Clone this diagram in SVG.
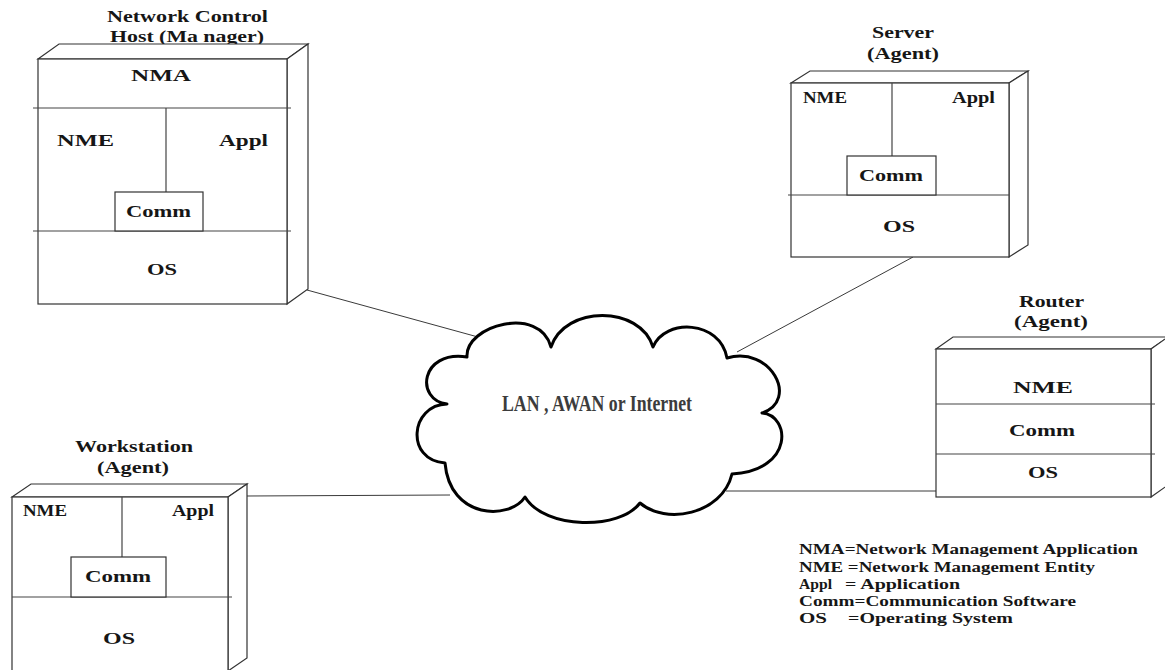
<svg xmlns="http://www.w3.org/2000/svg" width="1165" height="670" viewBox="0 0 1165 670">
  <style>
    .face { fill: #ffffff; stroke: #333333; stroke-width: 1.2; stroke-linejoin: miter; }
    .div { stroke: #444444; stroke-width: 1.2; fill: none; }
    .link { stroke: #3a3a3a; stroke-width: 1; fill: none; }
    .cloud { fill: #ffffff; stroke: #000000; stroke-width: 3; stroke-linejoin: round; }
    .t { font-family: "Liberation Serif", "Times New Roman", serif; font-weight: bold; font-size: 16.5px; fill: #161616; }
    .h { font-family: "Liberation Serif", "Times New Roman", serif; font-weight: bold; font-size: 16px; fill: #161616; }
    .legend { font-family: "Liberation Serif", "Times New Roman", serif; font-weight: bold; font-size: 15px; fill: #161616; }
    .net { font-family: "Liberation Serif", "Times New Roman", serif; font-weight: bold; font-size: 23px; fill: #3c3c3c; }
  </style>

  <rect x="0" y="0" width="1165" height="670" fill="#ffffff"/>

  <!-- links between the hosts and the network cloud -->
  <g id="connectors">
    <line class="link" x1="307" y1="290" x2="478" y2="337"/>
    <line class="link" x1="913" y1="257" x2="737" y2="352"/>
    <line class="link" x1="726" y1="491" x2="936" y2="491"/>
    <line class="link" x1="247" y1="496" x2="450" y2="495"/>
  </g>

  <!-- network control host (manager) -->
  <g id="manager">
    <text class="h" x="107" y="22" textLength="161" lengthAdjust="spacingAndGlyphs">Network Control</text>
    <text class="h" x="110" y="42" textLength="154" lengthAdjust="spacingAndGlyphs">Host (Ma nager)</text>
    <polygon class="face" points="38,59 59,44 308,44 287,59"/>
    <polygon class="face" points="287,59 308,44 308,289 287,304"/>
    <rect class="face" x="38" y="59" width="249" height="245"/>
    <line class="div" x1="33" y1="108" x2="291" y2="108"/>
    <line class="div" x1="33" y1="231" x2="291" y2="231"/>
    <line class="div" x1="166" y1="108" x2="166" y2="192"/>
    <rect class="face" x="115" y="192" width="88" height="39"/>
    <text class="t" x="131" y="81" textLength="60" lengthAdjust="spacingAndGlyphs">NMA</text>
    <text class="t" x="57" y="146" textLength="57" lengthAdjust="spacingAndGlyphs">NME</text>
    <text class="t" x="219" y="146" textLength="49" lengthAdjust="spacingAndGlyphs">Appl</text>
    <text class="t" x="126" y="217" textLength="65" lengthAdjust="spacingAndGlyphs">Comm</text>
    <text class="t" x="147" y="275" textLength="30" lengthAdjust="spacingAndGlyphs">OS</text>
  </g>

  <!-- server (agent) -->
  <g id="server">
    <text class="h" x="872" y="38" textLength="62" lengthAdjust="spacingAndGlyphs">Server</text>
    <text class="h" x="867" y="59" textLength="72" lengthAdjust="spacingAndGlyphs">(Agent)</text>
    <polygon class="face" points="791,83 810,71 1028,71 1009,83"/>
    <polygon class="face" points="1009,83 1028,71 1028,245 1009,257"/>
    <rect class="face" x="791" y="83" width="218" height="174"/>
    <line class="div" x1="788" y1="195" x2="1009" y2="195"/>
    <line class="div" x1="892" y1="83" x2="892" y2="156"/>
    <rect class="face" x="847" y="156" width="89" height="39"/>
    <text class="t" x="803" y="103" textLength="44" lengthAdjust="spacingAndGlyphs">NME</text>
    <text class="t" x="952" y="103" textLength="43" lengthAdjust="spacingAndGlyphs">Appl</text>
    <text class="t" x="859" y="181" textLength="64" lengthAdjust="spacingAndGlyphs">Comm</text>
    <text class="t" x="883" y="232" textLength="32" lengthAdjust="spacingAndGlyphs">OS</text>
  </g>

  <!-- router (agent) -->
  <g id="router">
    <text class="h" x="1019" y="307" textLength="65" lengthAdjust="spacingAndGlyphs">Router</text>
    <text class="h" x="1014" y="327" textLength="74" lengthAdjust="spacingAndGlyphs">(Agent)</text>
    <polygon class="face" points="936,349 953,337 1168,337 1151,349"/>
    <polygon class="face" points="1151,349 1168,337 1168,485 1151,497"/>
    <rect class="face" x="936" y="349" width="215" height="148"/>
    <line class="div" x1="936" y1="404" x2="1155" y2="404"/>
    <line class="div" x1="936" y1="454" x2="1155" y2="454"/>
    <text class="t" x="1013" y="393" textLength="60" lengthAdjust="spacingAndGlyphs">NME</text>
    <text class="t" x="1009" y="436" textLength="66" lengthAdjust="spacingAndGlyphs">Comm</text>
    <text class="t" x="1028" y="478" textLength="30" lengthAdjust="spacingAndGlyphs">OS</text>
  </g>

  <!-- workstation (agent) -->
  <g id="workstation">
    <text class="h" x="75" y="452" textLength="118" lengthAdjust="spacingAndGlyphs">Workstation</text>
    <text class="h" x="97" y="473" textLength="72" lengthAdjust="spacingAndGlyphs">(Agent)</text>
    <polygon class="face" points="12,497 31,484 247,484 228,497"/>
    <polygon class="face" points="228,497 247,484 247,658 228,671"/>
    <rect class="face" x="12" y="497" width="216" height="174"/>
    <line class="div" x1="12" y1="597" x2="232" y2="597"/>
    <line class="div" x1="122" y1="497" x2="122" y2="557"/>
    <rect class="face" x="71" y="557" width="95" height="40"/>
    <text class="t" x="23" y="516" textLength="44" lengthAdjust="spacingAndGlyphs">NME</text>
    <text class="t" x="172" y="516" textLength="42" lengthAdjust="spacingAndGlyphs">Appl</text>
    <text class="t" x="85" y="582" textLength="66" lengthAdjust="spacingAndGlyphs">Comm</text>
    <text class="t" x="103" y="644" textLength="32" lengthAdjust="spacingAndGlyphs">OS</text>
  </g>

  <!-- network cloud -->
  <g id="network">
    <path class="cloud" d="M467,357
      C465,325 540,305 551,347
      C565,305 640,305 653,347
      C665,318 720,320 727,358
      C770,345 800,400 762,413
      C790,415 795,470 732,474
      C722,515 665,525 640,503
      C620,530 545,530 525,497
      C510,520 450,520 445,463
      C405,460 410,405 447,404
      C415,400 420,350 467,357 Z"/>
    <text class="net" x="502" y="411" textLength="190" lengthAdjust="spacingAndGlyphs">LAN , AWAN or Internet</text>
  </g>

  <!-- abbreviation key -->
  <g id="legend">
    <text class="legend" x="799" y="554" textLength="339" lengthAdjust="spacingAndGlyphs">NMA=Network Management Application</text>
    <text class="legend" x="799" y="572" textLength="296" lengthAdjust="spacingAndGlyphs">NME =Network Management Entity</text>
    <text class="legend" x="799" y="589" textLength="33" lengthAdjust="spacingAndGlyphs">Appl</text>
    <text class="legend" x="845" y="589" textLength="115" lengthAdjust="spacingAndGlyphs">= Application</text>
    <text class="legend" x="799" y="606" textLength="277" lengthAdjust="spacingAndGlyphs">Comm=Communication Software</text>
    <text class="legend" x="799" y="623" textLength="28" lengthAdjust="spacingAndGlyphs">OS</text>
    <text class="legend" x="848" y="623" textLength="165" lengthAdjust="spacingAndGlyphs">=Operating System</text>
  </g>
</svg>
